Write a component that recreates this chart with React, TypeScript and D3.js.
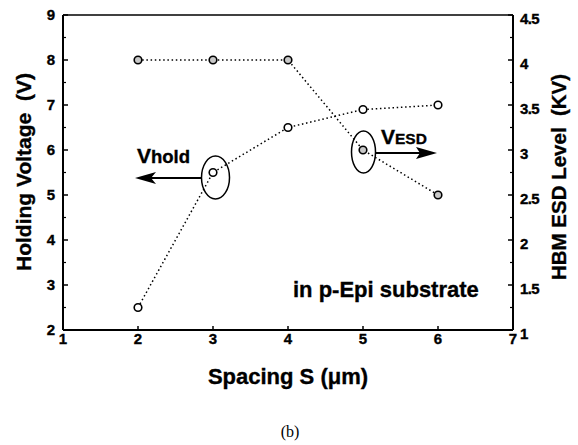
import React from "react";
import * as d3 from "d3";

const spacing = [2, 3, 4, 5, 6];
const holdVoltage = [2.5, 5.5, 6.5, 6.9, 7.0];
const esdLevel = [4, 4, 4, 3, 2.5];
const xTicks = [1, 2, 3, 4, 5, 6, 7];
const yLeftTicks = [2, 3, 4, 5, 6, 7, 8, 9];
const yRightTicks = [1, 1.5, 2, 2.5, 3, 3.5, 4, 4.5];

const W = 578;
const H = 445;
const M = { left: 63, top: 15, right: 65, bottom: 115 };
const FONT = "'Liberation Sans', Arial, Helvetica, sans-serif";
const BOLD = { fontFamily: FONT, fontWeight: "bold" as const, stroke: "#000", strokeWidth: 0.35 };

export default function App() {
  const iw = W - M.left - M.right;
  const ih = H - M.top - M.bottom;
  const x = d3.scaleLinear().domain([1, 7]).range([M.left, M.left + iw]);
  const yL = d3.scaleLinear().domain([2, 9]).range([M.top + ih, M.top]);
  const yR = d3.scaleLinear().domain([1, 4.5]).range([M.top + ih, M.top]);

  const holdLine = d3
    .line<number>()
    .x((_, i) => x(spacing[i]))
    .y((d) => yL(d))(holdVoltage) as string;
  const esdLine = d3
    .line<number>()
    .x((_, i) => x(spacing[i]))
    .y((d) => yR(d))(esdLevel) as string;

  const leftMinor = d3.range(2.5, 9, 1);
  const rightMinor = d3.range(1.25, 4.5, 0.5);

  const x0 = M.left;
  const x1 = M.left + iw;
  const y0 = M.top + ih;
  const y1 = M.top;

  return (
    <svg width={W} height={H} style={{ position: "absolute", left: 0, top: 0, background: "#fff" }}>
      <rect x={0} y={0} width={W} height={H} fill="#fff" />
      {/* frame */}
      <line x1={x0} y1={y1} x2={x1} y2={y1} stroke="#000" strokeWidth={1.6} />
      <line x1={x0} y1={y0} x2={x1} y2={y0} stroke="#000" strokeWidth={2} />
      <line x1={x0} y1={y1} x2={x0} y2={y0} stroke="#000" strokeWidth={2} />
      <line x1={x1} y1={y1} x2={x1} y2={y0} stroke="#000" strokeWidth={2} />

      {/* left ticks */}
      {yLeftTicks.map((t) => (
        <g key={"l" + t}>
          <line x1={x0} x2={x0 + 5} y1={yL(t)} y2={yL(t)} stroke="#000" strokeWidth={1.5} />
          <text x={x0 - 8} y={yL(t)} dy="0.36em" textAnchor="end" {...BOLD} fontSize={15}>
            {t}
          </text>
        </g>
      ))}
      {leftMinor.map((t) => (
        <line key={"lm" + t} x1={x0} x2={x0 + 3} y1={yL(t)} y2={yL(t)} stroke="#000" strokeWidth={1.2} />
      ))}

      {/* right ticks */}
      {yRightTicks.map((t) => (
        <g key={"r" + t}>
          <line x1={x1} x2={x1 - 5} y1={yR(t)} y2={yR(t)} stroke="#000" strokeWidth={1.5} />
          <text x={x1 + 7} y={yR(t) + 4} dy="0.36em" textAnchor="start" {...BOLD} fontSize={15} letterSpacing={-0.6}>
            {t}
          </text>
        </g>
      ))}
      {rightMinor.map((t) => (
        <line key={"rm" + t} x1={x1} x2={x1 - 3} y1={yR(t)} y2={yR(t)} stroke="#000" strokeWidth={1.2} />
      ))}

      {/* bottom ticks */}
      {xTicks.map((t) => (
        <g key={"b" + t}>
          <line x1={x(t)} x2={x(t)} y1={y0} y2={y0 - 4} stroke="#000" strokeWidth={1.5} />
          <text x={x(t)} y={y0 + 14} textAnchor="middle" {...BOLD} fontSize={15}>
            {t}
          </text>
        </g>
      ))}

      {/* series lines */}
      <path d={holdLine} fill="none" stroke="#000" strokeWidth={1.5} strokeDasharray="1.5 2.7" />
      <path d={esdLine} fill="none" stroke="#000" strokeWidth={1.5} strokeDasharray="1.5 2.7" />

      {/* markers */}
      {holdVoltage.map((v, i) => (
        <circle key={"h" + i} cx={x(spacing[i])} cy={yL(v)} r={3.8} fill="#fff" stroke="#000" strokeWidth={1.6} />
      ))}
      {esdLevel.map((v, i) => (
        <circle key={"e" + i} cx={x(spacing[i])} cy={yR(v)} r={3.8} fill="#c8c8c8" stroke="#000" strokeWidth={1.6} />
      ))}

      {/* Vhold annotation */}
      <ellipse cx={215.5} cy={177.5} rx={14} ry={21.5} fill="none" stroke="#000" strokeWidth={1.5} />
      <line x1={201.5} y1={178} x2={150} y2={178} stroke="#000" strokeWidth={1.8} />
      <path d="M135,178 L156,172 L151,178 L156,184 Z" fill="#000" />
      <text x={137} y={163} {...BOLD}>
        <tspan fontSize={21}>V</tspan>
        <tspan fontSize={18.5}>hold</tspan>
      </text>

      {/* VESD annotation */}
      <ellipse cx={363.5} cy={152} rx={12} ry={21} fill="none" stroke="#000" strokeWidth={1.5} />
      <line x1={375.5} y1={153} x2={420} y2={153} stroke="#000" strokeWidth={1.8} />
      <path d="M437,153 L416,147 L420,153 L416,159 Z" fill="#000" />
      <text x={381} y={144} {...BOLD}>
        <tspan fontSize={21}>V</tspan>
        <tspan fontSize={15.5}>ESD</tspan>
      </text>

      {/* inner label */}
      <text x={293} y={297} {...BOLD} fontSize={22}>
        in p-Epi substrate
      </text>

      {/* axis titles */}
      <text x={288} y={384} textAnchor="middle" {...BOLD} fontSize={22}>
        Spacing S (μm)
      </text>
      <text
        transform={`translate(31,172) rotate(-90)`}
        textAnchor="middle"
        {...BOLD}
        fontSize={21}
        style={{ whiteSpace: "pre" }}
      >
        {"Holding Voltage  (V)"}
      </text>
      <text
        transform={`translate(566,177) rotate(-90)`}
        textAnchor="middle"
        {...BOLD}
        fontSize={20.5}
        style={{ whiteSpace: "pre" }}
      >
        {"HBM ESD Level  (KV)"}
      </text>

      <text x={290} y={437} textAnchor="middle" fontFamily="'Liberation Serif', 'Times New Roman', serif" fontSize={16}>
        (b)
      </text>
    </svg>
  );
}
